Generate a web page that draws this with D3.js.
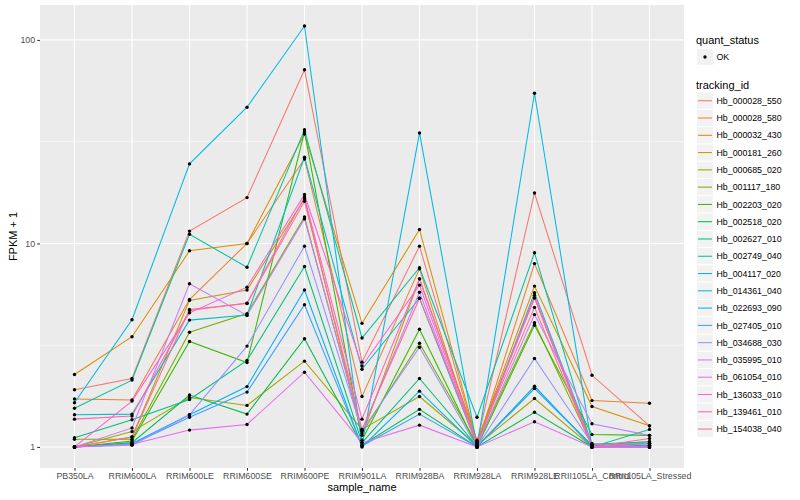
<!DOCTYPE html>
<html>
<head>
<meta charset="utf-8">
<script src="https://d3js.org/d3.v7.min.js"></script>
<style>
  body { margin: 0; background: #fff; }
  text { font-family: "Liberation Sans", Arial, Helvetica, sans-serif; }
</style>
</head>
<body>
<div id="chart"></div>
<script>
// samples on the x axis
const samples = ["PB350LA", "RRIM600LA", "RRIM600LE", "RRIM600SE", "RRIM600PE", "RRIM901LA",
  "RRIM928BA", "RRIM928LA", "RRIM928LE", "RRII105LA_Control", "RRII105LA_Stressed"];

const trackingIds = ["Hb_000028_550", "Hb_000028_580", "Hb_000032_430", "Hb_000181_260", "Hb_000685_020",
  "Hb_001117_180", "Hb_002203_020", "Hb_002518_020", "Hb_002627_010", "Hb_002749_040",
  "Hb_004117_020", "Hb_014361_040", "Hb_022693_090", "Hb_027405_010", "Hb_034688_030",
  "Hb_035995_010", "Hb_061054_010", "Hb_136033_010", "Hb_139461_010", "Hb_154038_040"];

// FPKM + 1, one row per tracking id, one value per sample
const fpkm = [
  [1.91, 2.17, 11.5, 16.8, 71.3, 2.61, 9.7, 1.05, 17.7, 2.25, 1.27],
  [1.72, 1.70, 5.3, 10.0, 26.0, 1.77, 7.5, 1.02, 7.96, 1.69, 1.64],
  [2.27, 3.48, 9.2, 10.0, 34.5, 4.05, 11.7, 1.06, 6.17, 1.58, 1.27],
  [1.0, 1.12, 5.25, 5.9, 16.6, 1.14, 6.7, 1.08, 5.4, 1.0, 1.04],
  [1.0, 1.19, 1.75, 1.6, 2.64, 1.22, 1.77, 1.02, 1.73, 1.0, 1.0],
  [1.09, 1.09, 3.66, 4.52, 13.5, 1.17, 3.23, 1.03, 4.08, 1.02, 1.06],
  [1.0, 1.07, 3.3, 2.6, 35.3, 1.08, 3.79, 1.0, 3.96, 1.15, 1.14],
  [1.0, 1.05, 1.8, 1.45, 3.4, 1.02, 1.53, 1.0, 1.48, 1.0, 1.02],
  [1.11, 1.36, 1.71, 2.66, 7.7, 1.05, 2.17, 1.01, 1.94, 1.02, 1.04],
  [1.55, 2.13, 11.1, 7.64, 36.2, 3.43, 7.6, 1.4, 9.0, 1.0, 1.22],
  [1.44, 1.45, 4.2, 4.45, 26.5, 2.41, 5.38, 1.02, 5.72, 1.03, 1.06],
  [1.65, 4.22, 24.6, 46.7, 117, 1.02, 34.9, 1.0, 54.7, 1.0, 1.0],
  [1.0, 1.04, 1.44, 1.98, 5.9, 1.0, 1.88, 1.0, 1.99, 1.0, 1.02],
  [1.0, 1.03, 1.40, 1.86, 5.0, 1.01, 1.45, 1.0, 1.94, 1.01, 1.0],
  [1.0, 1.02, 1.44, 3.13, 9.7, 1.2, 3.09, 1.0, 2.72, 1.04, 1.0],
  [1.0, 1.24, 6.34, 4.43, 13.2, 1.2, 5.76, 1.02, 4.47, 1.30, 1.14],
  [1.0, 1.03, 1.21, 1.29, 2.33, 1.05, 1.28, 1.0, 1.33, 1.0, 1.0],
  [1.0, 1.68, 4.56, 6.1, 17.4, 2.5, 6.24, 1.03, 5.57, 1.0, 1.0],
  [1.37, 1.42, 4.68, 5.09, 16.9, 1.37, 6.7, 1.04, 5.4, 1.02, 1.04],
  [1.0, 1.12, 4.74, 5.07, 16.1, 1.22, 5.38, 1.05, 4.85, 1.0, 1.1]
];

const colors = ["#F8766D", "#EA8331", "#D89000", "#C09B00", "#A3A500", "#7CAE00", "#39B600", "#00BB4E",
  "#00BF7D", "#00C1A3", "#00BFC4", "#00BAE0", "#00B0F6", "#35A2FF", "#9590FF", "#C77CFF",
  "#E76BF3", "#FA62DB", "#FF62BC", "#FF6C91"];

const yTicks = [1, 10, 100];
const yMinor = [Math.sqrt(10), Math.sqrt(10) * 10];

const width = 800, height = 500;
const panel = { left: 40, right: 684, top: 5, bottom: 468 };

const svg = d3.select("#chart").append("svg")
  .attr("width", width).attr("height", height);

svg.append("rect").attr("width", width).attr("height", height).attr("fill", "#fff");

const x = d3.scalePoint().domain(samples).range([panel.left, panel.right]).padding(0.6);

// ggplot-like 5% expansion on the log scale
const allVals = fpkm.flat();
const lo = Math.log10(d3.min(allVals)), hi = Math.log10(d3.max(allVals));
const pad = (hi - lo) * 0.05;
const y = d3.scaleLog().domain([Math.pow(10, lo - pad), Math.pow(10, hi + pad)])
  .range([panel.bottom, panel.top]);

svg.append("rect")
  .attr("x", panel.left).attr("y", panel.top)
  .attr("width", panel.right - panel.left).attr("height", panel.bottom - panel.top)
  .attr("fill", "#EBEBEB");

const grid = svg.append("g");
grid.selectAll(".minor").data(yMinor).join("line")
  .attr("x1", panel.left).attr("x2", panel.right)
  .attr("y1", d => y(d)).attr("y2", d => y(d))
  .attr("stroke", "#fff").attr("stroke-width", 0.55);
grid.selectAll(".majy").data(yTicks).join("line")
  .attr("x1", panel.left).attr("x2", panel.right)
  .attr("y1", d => y(d)).attr("y2", d => y(d))
  .attr("stroke", "#fff").attr("stroke-width", 1.1);
grid.selectAll(".majx").data(samples).join("line")
  .attr("x1", d => x(d)).attr("x2", d => x(d))
  .attr("y1", panel.top).attr("y2", panel.bottom)
  .attr("stroke", "#fff").attr("stroke-width", 1.1);

// lines
const line = d3.line().x((d, i) => x(samples[i])).y(d => y(d));
svg.append("g").selectAll("path").data(fpkm).join("path")
  .attr("d", line)
  .attr("fill", "none")
  .attr("stroke", (d, i) => colors[i])
  .attr("stroke-width", 1.05);

// points
const pts = [];
fpkm.forEach(row => row.forEach((v, i) => pts.push({ s: samples[i], v })));
svg.append("g").selectAll("circle").data(pts).join("circle")
  .attr("cx", d => x(d.s)).attr("cy", d => y(d.v))
  .attr("r", 1.7).attr("fill", "#000");

// axes
const xAxis = svg.append("g")
  .attr("transform", `translate(0,${panel.bottom})`)
  .call(d3.axisBottom(x).tickSize(2.75).tickPadding(2.2));
const yAxis = svg.append("g")
  .attr("transform", `translate(${panel.left},0)`)
  .call(d3.axisLeft(y).tickValues(yTicks).tickFormat(d3.format("d")).tickSize(2.75).tickPadding(2.2));
[xAxis, yAxis].forEach(a => {
  a.select(".domain").remove();
  a.selectAll(".tick line").attr("stroke", "#333").attr("stroke-width", 1.05);
  a.selectAll(".tick text").attr("fill", "#4D4D4D").style("font-size", "8.8px");
});

svg.append("text")
  .attr("x", (panel.left + panel.right) / 2).attr("y", 491)
  .attr("text-anchor", "middle").style("font-size", "11px").attr("fill", "#000")
  .text("sample_name");
svg.append("text")
  .attr("transform", `translate(17,${(panel.top + panel.bottom) / 2}) rotate(-90)`)
  .attr("text-anchor", "middle").style("font-size", "11px").attr("fill", "#000")
  .text("FPKM + 1");

// legends
const lg = svg.append("g").attr("transform", "translate(696,0)");
lg.append("text").attr("x", 0).attr("y", 44).style("font-size", "11px").text("quant_status");
lg.append("rect").attr("x", 0.5).attr("y", 48.5).attr("width", 17).attr("height", 17)
  .attr("fill", "#F2F2F2").attr("stroke", "#fff");
lg.append("circle").attr("cx", 9).attr("cy", 57).attr("r", 1.7).attr("fill", "#000");
lg.append("text").attr("x", 20.5).attr("y", 60.2).style("font-size", "8.8px").attr("fill", "#000").text("OK");

lg.append("text").attr("x", 0).attr("y", 89).style("font-size", "11px").text("tracking_id");
const keyH = 17.28;
const keys = lg.append("g").selectAll("g").data(trackingIds).join("g")
  .attr("transform", (d, i) => `translate(0,${92.1 + i * keyH})`);
keys.append("rect").attr("x", 0.5).attr("y", 0).attr("width", 17).attr("height", keyH)
  .attr("fill", "#F2F2F2").attr("stroke", "#fff");
keys.append("line").attr("x1", 2).attr("x2", 16).attr("y1", keyH / 2).attr("y2", keyH / 2)
  .attr("stroke", (d, i) => colors[i]).attr("stroke-width", 1.05);
keys.append("text").attr("x", 20.5).attr("y", keyH / 2 + 3.2)
  .style("font-size", "8.8px").attr("fill", "#000").text(d => d);
</script>
</body>
</html>
